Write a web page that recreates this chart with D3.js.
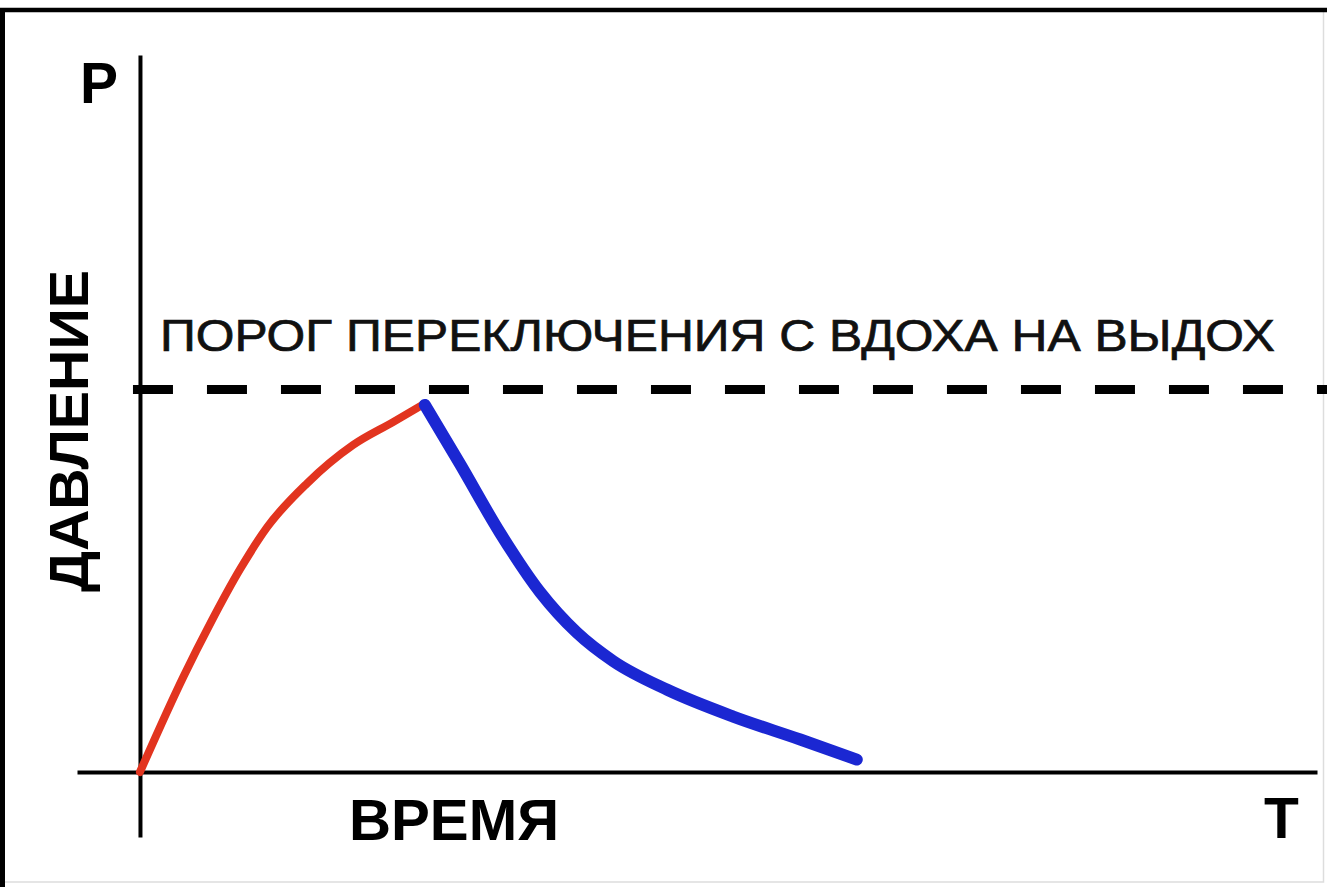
<!DOCTYPE html>
<html lang="ru">
<head>
  <meta charset="UTF-8">
  <title>pressure-time</title>
  <script src="https://cdn.jsdelivr.net/npm/d3@7"></script>
  <style>
    body { margin: 0; background: #fff; }
    svg { display: block; }
    .label { font-family: 'Liberation Sans', Arial, sans-serif; font-weight: bold; fill: #000; }
    .note { font-family: 'Liberation Sans', Arial, sans-serif; fill: #111; stroke: #111; stroke-width: 0.7; }
  </style>
</head>
<body>
<script>
// inspiration (red) and expiration (blue) pressure, time in s, pressure in cmH2O
let inhaleTime = [0, 0.37, 0.6, 0.85, 1.08, 1.42, 1.81, 2.15, 2.4];
let inhalePressure = [0, 5.0, 7.8, 10.6, 12.8, 15.1, 17.1, 18.3, 19.2];
let exhaleTime = [2.42, 2.72, 3.06, 3.4, 3.71, 4.02, 4.48, 5.04, 5.61, 6.09];
let exhalePressure = [19.2, 16.1, 12.5, 9.4, 7.3, 5.8, 4.3, 2.9, 1.7, 0.65];
let threshold = 20;
let timeDomain = [-0.535, 10];
let pressureDomain = [-3.4, 37.5];

let labels = {
  p: 'P',
  t: 'T',
  x: 'ВРЕМЯ',
  y: 'ДАВЛЕНИЕ',
  threshold: 'ПОРОГ ПЕРЕКЛЮЧЕНИЯ С ВДОХА НА ВЫДОХ'
};

let width = 1327;
let height = 887;

let svg = d3.select('body')
  .append('svg')
  .attr('width', width)
  .attr('height', height);

// frame
svg.append('rect')
  .attr('x', 2.5).attr('y', 10)
  .attr('width', width - 6).attr('height', height - 15)
  .attr('fill', 'none')
  .attr('stroke', '#ddd')
  .attr('stroke-width', 1.5);
svg.append('line')
  .attr('x1', 0).attr('x2', width)
  .attr('y1', 10).attr('y2', 10)
  .attr('stroke', '#000').attr('stroke-width', 4.5);
svg.append('line')
  .attr('x1', 2.5).attr('x2', 2.5)
  .attr('y1', 8).attr('y2', height)
  .attr('stroke', '#000').attr('stroke-width', 5);

let x = d3.scaleLinear().domain(timeDomain).range([77, 1317]);
let y = d3.scaleLinear().domain(pressureDomain).range([837, 55]);

// axes: bare lines, no ticks
let xAxis = d3.axisBottom(x).tickValues([]).tickSizeOuter(0);
let yAxis = d3.axisLeft(y).tickValues([]).tickSizeOuter(0);

svg.append('g')
  .attr('class', 'x axis')
  .attr('transform', 'translate(0,' + y(0) + ')')
  .call(xAxis);
svg.append('g')
  .attr('class', 'y axis')
  .attr('transform', 'translate(' + x(0) + ',0)')
  .call(yAxis);
svg.selectAll('.axis path')
  .attr('stroke', '#000')
  .attr('stroke-width', 4);

// switching threshold
svg.append('line')
  .attr('x1', x(0) - 7).attr('x2', width)
  .attr('y1', y(threshold)).attr('y2', y(threshold))
  .attr('stroke', '#000')
  .attr('stroke-width', 9)
  .attr('stroke-dasharray', '40,34');

let line = d3.line()
  .x(function (d) { return x(d[0]); })
  .y(function (d) { return y(d[1]); })
  .curve(d3.curveMonotoneX);

svg.append('path')
  .datum(d3.zip(inhaleTime, inhalePressure))
  .attr('d', line)
  .attr('fill', 'none')
  .attr('stroke', '#e2341f')
  .attr('stroke-width', 8)
  .attr('stroke-linecap', 'round');

svg.append('path')
  .datum(d3.zip(exhaleTime, exhalePressure))
  .attr('d', line)
  .attr('fill', 'none')
  .attr('stroke', '#1b27d2')
  .attr('stroke-width', 12)
  .attr('stroke-linecap', 'round')
  .attr('stroke-linejoin', 'round');

// texts
svg.append('text')
  .attr('class', 'label')
  .attr('x', 80).attr('y', 103)
  .attr('font-size', 57)
  .text(labels.p);

svg.append('text')
  .attr('class', 'label')
  .attr('x', 1264).attr('y', 838)
  .attr('font-size', 57)
  .text(labels.t);

svg.append('text')
  .attr('class', 'label')
  .attr('x', 349).attr('y', 840)
  .attr('font-size', 57)
  .attr('textLength', 210)
  .attr('lengthAdjust', 'spacingAndGlyphs')
  .text(labels.x);

svg.append('text')
  .attr('class', 'label')
  .attr('transform', 'translate(88,' + 431 + ') rotate(-90)')
  .attr('text-anchor', 'middle')
  .attr('font-size', 56)
  .attr('textLength', 322)
  .attr('lengthAdjust', 'spacingAndGlyphs')
  .text(labels.y);

svg.append('text')
  .attr('class', 'note')
  .attr('x', 160).attr('y', 351)
  .attr('font-size', 45)
  .attr('textLength', 1115)
  .attr('lengthAdjust', 'spacingAndGlyphs')
  .text(labels.threshold);
</script>
</body>
</html>
